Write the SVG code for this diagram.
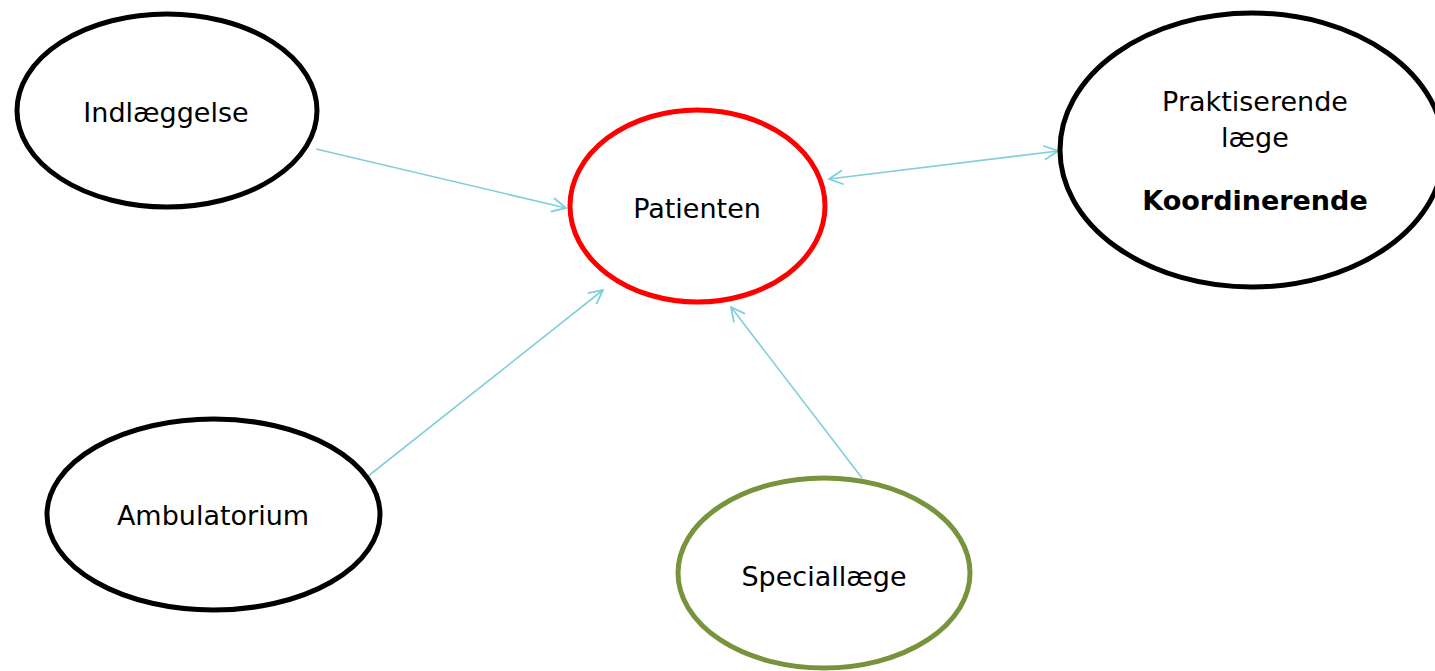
<svg xmlns="http://www.w3.org/2000/svg" width="1435" height="671" viewBox="0 0 1435 671">
<style>
.n{fill:#fff;stroke:#000;stroke-width:5}
.t{font-family:"DejaVu Sans","Verdana",sans-serif;font-size:27px;fill:#000;text-anchor:middle}
.c{stroke:#80CFDA;stroke-width:1.6;fill:none}
</style>
<defs>
<marker id="ah" viewBox="0 0 16 16" refX="15" refY="8" markerWidth="16" markerHeight="16" markerUnits="userSpaceOnUse" orient="auto-start-reverse">
<path d="M1,1 L15,8 L1,15" fill="none" stroke="#80CFDA" stroke-width="1.8"/>
</marker>
</defs>
<rect width="1435" height="671" fill="#fff"/>
<g id="connectors">
<line class="c" x1="316" y1="149" x2="566" y2="208" marker-end="url(#ah)"/>
<line class="c" x1="367" y1="477" x2="603" y2="290" marker-end="url(#ah)"/>
<line class="c" x1="862" y1="478" x2="731" y2="307" marker-end="url(#ah)"/>
<line class="c" x1="829" y1="179" x2="1058" y2="151" marker-start="url(#ah)" marker-end="url(#ah)"/>
</g>
<g id="indlaeggelse">
<ellipse class="n" cx="167" cy="110.5" rx="150" ry="96.5"/>
<text class="t" x="166" y="122">Indlæggelse</text>
</g>
<g id="patienten">
<ellipse class="n" cx="697.5" cy="206" rx="127.5" ry="96" style="stroke:#FF0000"/>
<text class="t" x="697" y="218">Patienten</text>
</g>
<g id="praktiserende">
<ellipse class="n" cx="1252" cy="150" rx="192" ry="137"/>
<text class="t" x="1255" y="111">Praktiserende</text>
<text class="t" x="1255" y="147">læge</text>
<text class="t" x="1255" y="210" font-weight="bold" font-size="26.5">Koordinerende</text>
</g>
<g id="ambulatorium">
<ellipse class="n" cx="213.5" cy="514.5" rx="166.5" ry="95.5"/>
<text class="t" x="213" y="525">Ambulatorium</text>
</g>
<g id="speciallaege">
<ellipse class="n" cx="824" cy="573" rx="146" ry="95" style="stroke:#77933C"/>
<text class="t" x="824" y="586">Speciallæge</text>
</g>
</svg>
